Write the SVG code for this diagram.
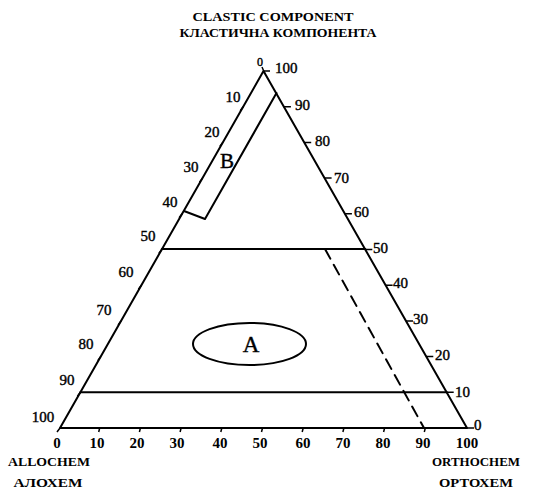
<svg xmlns="http://www.w3.org/2000/svg" width="533" height="493" viewBox="0 0 533 493">
<style>
.ln{stroke:#000;stroke-width:2;fill:none;stroke-linecap:round;stroke-linejoin:round}
.tk{stroke:#000;stroke-width:1.5;fill:none}
.num{font-family:"Liberation Serif","Times New Roman",serif;font-size:15px;fill:#000;stroke:#000;stroke-width:0.4}
.bot{font-family:"Liberation Serif","Times New Roman",serif;font-size:15px;font-weight:bold;fill:#000;text-anchor:middle}
.ttl{font-family:"Liberation Serif","Times New Roman",serif;font-size:13px;font-weight:bold;fill:#000;text-anchor:middle}
.big{font-family:"Liberation Serif","Times New Roman",serif;fill:#000;text-anchor:middle;stroke:#000;stroke-width:0.4}
</style>
<rect width="533" height="493" fill="#fff"/>
<g id="titles">
<text class="ttl" x="273" y="21" textLength="161" lengthAdjust="spacingAndGlyphs">CLASTIC COMPONENT</text>
<text class="ttl" x="278" y="37" textLength="197" lengthAdjust="spacingAndGlyphs">КЛАСТИЧНА КОМПОНЕНТА</text>
<text class="ttl" x="49" y="466" textLength="82" lengthAdjust="spacingAndGlyphs">ALLOCHEM</text>
<text class="ttl" x="48" y="487" textLength="69" lengthAdjust="spacingAndGlyphs">АЛОХЕМ</text>
<text class="ttl" x="476" y="466" textLength="88" lengthAdjust="spacingAndGlyphs">ORTHOCHEM</text>
<text class="ttl" x="476" y="487" textLength="74" lengthAdjust="spacingAndGlyphs">ОРТОХЕМ</text>
</g>
<g id="triangle">
<path class="ln" d="M263.5,71 L60,428 L467,428 Z"/>
</g>
<g id="ticks">
<path class="tk" d="M262,67 L265,74 M263.5,71 L270,71
M243.2,106.7 l-3,4 M222.8,142.4 l-3,4 M202.5,178.1 l-3,4 M182.1,213.8 l-3,4 M161.8,249.5 l-3,4 M141.4,285.2 l-3,4 M121.1,320.9 l-3,4 M100.7,356.6 l-3,4 M80.4,392.3 l-3,4 M60,428 l-3,4
M283.9,106.7 h7 M304.2,142.4 h7 M324.6,178.1 h7 M344.9,213.8 h7 M365.3,249.5 h7 M385.6,285.2 h7 M406,320.9 h7 M426.3,356.6 h7 M446.7,392.3 h7 M467,428 h7
M99.7,428 l-1,4 M140.4,428 l-1,4 M181.1,428 l-1,4 M221.8,428 l-1,4 M262.5,428 l-1,4 M303.2,428 l-1,4 M343.9,428 l-1,4 M384.6,428 l-1,4 M425.3,428 l-1,4"/>
</g>
<g id="left-labels" class="num" text-anchor="middle">
<text x="260" y="66" font-size="12">0</text>
<text x="233" y="102">10</text>
<text x="212" y="137">20</text>
<text x="191" y="172">30</text>
<text x="170" y="207">40</text>
<text x="148" y="241">50</text>
<text x="126" y="277">60</text>
<text x="104" y="315">70</text>
<text x="86" y="349">80</text>
<text x="67" y="385">90</text>
<text x="43" y="422">100</text>
</g>
<g id="right-labels" class="num">
<text x="275" y="73">100</text>
<text x="295" y="110">90</text>
<text x="315" y="146">80</text>
<text x="334" y="183">70</text>
<text x="354" y="217">60</text>
<text x="373" y="253">50</text>
<text x="393" y="288">40</text>
<text x="413" y="324">30</text>
<text x="435" y="360">20</text>
<text x="455" y="397">10</text>
<text x="474" y="430">0</text>
</g>
<g id="bottom-labels">
<text class="bot" x="57" y="448">0</text>
<text class="bot" x="97" y="448">10</text>
<text class="bot" x="137" y="448">20</text>
<text class="bot" x="177" y="448">30</text>
<text class="bot" x="220" y="448">40</text>
<text class="bot" x="260" y="448">50</text>
<text class="bot" x="303" y="448">60</text>
<text class="bot" x="343" y="448">70</text>
<text class="bot" x="383" y="448">80</text>
<text class="bot" x="423" y="448">90</text>
<text class="bot" x="467" y="448">100</text>
</g>
<g id="connectors">
<path class="ln" d="M161.8,249 H365.3"/>
<path class="ln" d="M80.4,392.3 H446.7"/>
<path class="ln" d="M325,249 L424,428" stroke-dasharray="11 7"/>
</g>
<g id="field-B">
<path class="ln" d="M276.5,93 L205,219 L184,211"/>
<text class="big" x="227" y="168" font-size="21">B</text>
</g>
<g id="field-A">
<ellipse class="ln" cx="249.5" cy="344" rx="56.5" ry="21"/>
<text class="big" x="251" y="352" font-size="23">A</text>
</g>
</svg>
